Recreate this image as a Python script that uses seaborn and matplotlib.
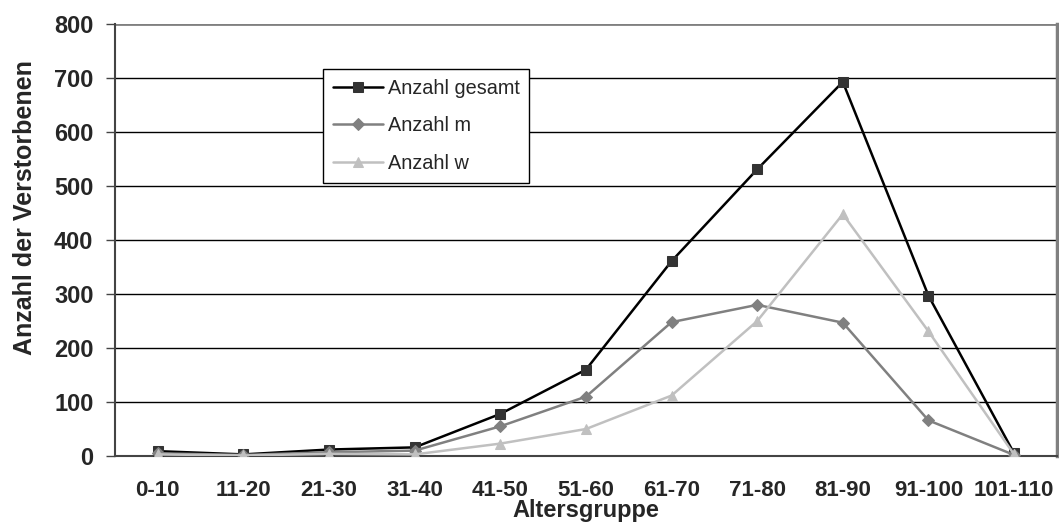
import matplotlib
matplotlib.use("Agg")
import matplotlib.pyplot as plt
import seaborn as sns
import pandas as pd
import numpy as np

categories = ["0-10", "11-20", "21-30", "31-40", "41-50", "51-60", "61-70",
              "71-80", "81-90", "91-100", "101-110"]
gesamt = [9, 3, 12, 16, 78, 160, 361, 531, 693, 297, 5]
maenner = [5, 2, 7, 10, 55, 110, 248, 280, 247, 66, 2]
frauen = [3, 1, 4, 3, 23, 50, 112, 250, 448, 231, 3]
series_names = ["Anzahl gesamt", "Anzahl m", "Anzahl w"]
y_ticks = [0, 100, 200, 300, 400, 500, 600, 700, 800]

sns.set_theme(style="white")
plt.rcParams["font.family"] = ["Liberation Sans", "DejaVu Sans"]

df = pd.DataFrame({
    "Altersgruppe": categories * 3,
    "x": list(range(len(categories))) * 3,
    "Wert": gesamt + maenner + frauen,
    "Serie": [series_names[0]] * 11 + [series_names[1]] * 11 + [series_names[2]] * 11,
})

fig = plt.figure(figsize=(10.59, 5.25), dpi=100)
ax = fig.add_axes([0.1086, 0.1314, 0.8894, 0.8226])

styles = {
    "Anzahl gesamt": dict(color="#000000", marker="s", mfc="#333333", mec="#333333", ms=7),
    "Anzahl m": dict(color="#808080", marker="D", mfc="#808080", mec="#808080", ms=6),
    "Anzahl w": dict(color="#c0c0c0", marker="^", mfc="#c0c0c0", mec="#c0c0c0", ms=7.5),
}
for name in series_names:
    sub = df[df["Serie"] == name]
    st = styles[name]
    sns.lineplot(data=sub, x="x", y="Wert", ax=ax, color=st["color"], lw=1.8,
                 marker=st["marker"], markersize=st["ms"],
                 markerfacecolor=st["mfc"], markeredgecolor=st["mec"],
                 label=name, sort=False, zorder=3)

ax.set_xlim(-0.5, len(categories) - 0.5)
ax.set_ylim(0, 800)
ax.set_yticks(y_ticks)
ax.set_yticklabels([str(v) for v in y_ticks], fontsize=17, fontweight="bold")
ax.set_xticks(range(len(categories)))
ax.set_xticklabels(categories, fontsize=16, fontweight="bold")
ax.tick_params(axis="x", length=0, pad=17)
ax.set_xticks(np.arange(-0.5, len(categories), 1), minor=True)
ax.tick_params(axis="x", which="minor", length=5, width=1.2, color="#444444", direction="out")
ax.tick_params(axis="y", length=6.5, width=1, color="#444444", direction="out", pad=9, left=True)

for v in y_ticks[1:-1]:
    ax.axhline(v, color="#000000", lw=1, zorder=1)
ax.axhline(800, color="#808080", lw=2, zorder=1)

for side in ["left", "bottom"]:
    ax.spines[side].set_color("#444444")
    ax.spines[side].set_linewidth(1.5)
ax.spines["top"].set_visible(False)
ax.spines["right"].set_color("#808080")
ax.spines["right"].set_linewidth(2.5)

ax.set_xlabel("Altersgruppe", fontsize=17, fontweight="bold", labelpad=-1)
ax.set_ylabel("Anzahl der Verstorbenen", fontsize=18, fontweight="bold")
ax.yaxis.set_label_coords(-0.083, 0.576)

leg = ax.legend(loc="upper left", bbox_to_anchor=(0.2208, 0.8958), frameon=True,
                fancybox=False, edgecolor="#000000", handlelength=2.5,
                borderpad=0.5, labelspacing=0.92, handletextpad=0.25,
                borderaxespad=0, prop={"size": 14.3})
leg.get_frame().set_linewidth(1)
leg.get_frame().set_alpha(1)

fig.savefig("out.png", dpi=100)
